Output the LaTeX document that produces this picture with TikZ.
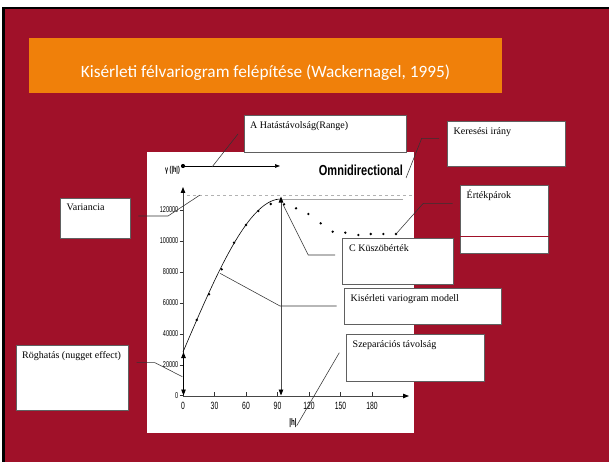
\documentclass[tikz,border=0pt]{standalone}
\usepackage{fontspec}
\setmainfont{Liberation Serif}
\newfontfamily\titlefont{Carlito}
\newfontfamily\chartfont[FakeStretch=0.65]{Liberation Sans}
\newfontfamily\omnifont[FakeStretch=0.76]{Liberation Sans}
\usetikzlibrary{arrows.meta}
\definecolor{slidered}{RGB}{160,17,41}
\definecolor{titleorange}{RGB}{240,128,10}
\begin{document}
\begin{tikzpicture}[x=1pt,y=-1pt,
  box/.style={draw=gray!75!black, line width=0.7pt, fill=white, anchor=north west, inner sep=0pt},
  boxtext/.style={anchor=base west, inner sep=0pt, font=\fontsize{10}{12}\selectfont},
  leader/.style={draw=black!80, line width=0.55pt},
  ylab/.style={font=\chartfont\fontsize{8.5}{9}\selectfont, inner sep=0pt, anchor=east},
  xlab/.style={font=\chartfont\fontsize{10.5}{11}\selectfont, inner sep=0pt, anchor=north},
  dot/.style={circle, fill=black, inner sep=0pt, minimum size=2.6pt},
  axis/.style={draw=gray!55!black, line width=0.9pt},
  tip/.style={-{Triangle[length=6pt,width=4.5pt,color=black]}},
  dtip/.style={{Triangle[length=6pt,width=4.5pt,color=black]}-{Triangle[length=6pt,width=4.5pt,color=black]}},
]
\useasboundingbox (0,0) rectangle (609,462);
% slide background
\fill[white] (0,0) rectangle (609,462);
\fill[black] (2,7) rectangle (609,462);
\fill[slidered] (5,9) rectangle (609,462);
% title bar
\node[fill=titleorange, anchor=north west, minimum width=473pt, minimum height=55pt, inner sep=0pt] (titlebar) at (29,38) {};
\node[anchor=base, inner sep=0pt, text=white, font=\titlefont\fontsize{17.3}{20}\selectfont] (title) at (265.5,77.7) {Kisérleti félvariogram felépítése (Wackernagel, 1995)};
% chart area
\fill[white] (147,152) rectangle (414,433);
% sill lines
\draw[gray!60, dashed, line width=0.5pt] (187,195) -- (414,195);
\draw[gray!70, line width=1pt] (282,199) -- (403,199);
% axes
\coordinate (O) at (183,396);
\coordinate (ytip) at (183,187);
\coordinate (xtip) at (409,396);
\draw[axis, tip] (O) -- (ytip);
\draw[axis, tip] (O) -- (xtip);
% y ticks
\foreach \k/\lab in {0/0,1/20000,2/40000,3/60000,4/80000,5/100000,6/120000}{
  \draw[gray!40!black, line width=0.5pt] (179.5,{395.7-30.95*\k}) -- (183,{395.7-30.95*\k});
  \node[ylab] (yl\k) at (178.5,{395.7-30.95*\k}) {\lab};
}
% x ticks
\foreach \k/\lab in {0/0,1/30,2/60,3/90,4/120,5/150,6/180}{
  \draw[gray!40!black, line width=0.5pt] ({183+31.5*\k},396) -- ({183+31.5*\k},392);
  \node[xlab] (xl\k) at ({183+31.5*\k},402) {\lab};
}
% axis labels
\node[inner sep=0pt, font=\chartfont\bfseries\fontsize{8.5}{9}\selectfont] (ylabel) at (172.5,170) {γ (|h|)};
\node[inner sep=0pt, font=\chartfont\bfseries\fontsize{9.5}{10}\selectfont] (xlabel) at (293,423) {|h|};
\node[anchor=base east, inner sep=0pt, font=\omnifont\bfseries\fontsize{14.5}{15}\selectfont] (omni) at (403,176) {Omnidirectional};
% range and nugget arrows
\draw[gray!60!black, line width=0.9pt, dtip] (281,196.5) -- (281,395.5);
\draw[black, line width=0.9pt, dtip] (183.5,352) -- (183.5,395.5);
% model curve
\draw[black, line width=0.6pt] plot[domain=183:281, samples=40] (\x,{352-153*(1.5*((\x-183)/98)-0.5*((\x-183)/98)^3)});
% experimental points
\foreach \p [count=\i] in {(196.7,320),(209,294.3),(221.7,269.3),(234,242.7),(246,225),(258.3,211),(270.7,204),(284,204.3),(296,208.3),(308.3,214),(320.7,223.3),(332.7,231.7),(345.3,232.7),(358.3,235),(370.7,234),(383.3,234),(396,234)}
  \node[dot] (d\i) at \p {};
% range indicator
\node[dot, minimum size=4.2pt] (rstart) at (183,166) {};
\coordinate (rend) at (280,166);
\draw[black, line width=0.7pt, -{Triangle[length=5pt,width=3.6pt]}] (rstart.center) -- (rend);
% boxes
\node[box, minimum width=162pt, minimum height=37pt] (rangebox) at (244,115) {};
\node[boxtext] (rangetext) at ([shift={(6,14)}]rangebox.north west) {A Hatástávolság(Range)};
\node[box, minimum width=118pt, minimum height=45pt] (kerbox) at (447,121) {};
\node[boxtext] (kertext) at ([shift={(6.5,13.5)}]kerbox.north west) {Keresési irány};
\node[box, minimum width=88pt, minimum height=68pt] (ertbox) at (460,185) {};
\draw[slidered, line width=0.9pt] (ertbox.west |- 0,236) -- (ertbox.east |- 0,236);
\node[boxtext] (erttext) at ([shift={(6.5,13.5)}]ertbox.north west) {Értékpárok};
\node[box, minimum width=70pt, minimum height=40pt] (varbox) at (60,198) {};
\node[boxtext] (vartext) at ([shift={(6.5,12.5)}]varbox.north west) {Variancia};
\node[box, minimum width=112pt, minimum height=65pt] (rogbox) at (16,345) {};
\node[boxtext] (rogtext) at ([shift={(6,13.5)}]rogbox.north west) {Röghatás (nugget effect)};
\node[box, minimum width=111pt, minimum height=46pt] (kuszbox) at (342,238) {};
\node[boxtext] (kusztext) at ([shift={(7,13)}]kuszbox.north west) {C Küszöbérték};
\node[box, minimum width=157pt, minimum height=36pt] (kisbox) at (344,288) {};
\node[boxtext] (kistext) at ([shift={(6.5,13.5)}]kisbox.north west) {Kisérleti variogram modell};
\node[box, minimum width=138pt, minimum height=47pt] (szepbox) at (346,334) {};
\node[boxtext] (szeptext) at ([shift={(6.5,13.5)}]szepbox.north west) {Szeparációs távolság};
% leader coordinates
\coordinate (rl1) at (212,167);  \coordinate (rl2) at (238,134);
\coordinate (kl1) at (406,178);  \coordinate (kl2) at (421.7,138.3); \coordinate (kl3) at (439,138.3);
\coordinate (el2) at (423.3,203.3); \coordinate (el3) at (452.7,203.3);
\coordinate (vl1) at (138.3,216); \coordinate (vl2) at (168,216); \coordinate (vl3) at (200,195);
\coordinate (cl1) at (283.3,205); \coordinate (cl2) at (308.3,255); \coordinate (cl3) at (335,255);
\coordinate (ml1) at (220,273.3); \coordinate (ml2) at (280,306); \coordinate (ml3) at (336.7,306);
\coordinate (sl1) at (339.3,352.7); \coordinate (sl2) at (296.7,425.7);
\coordinate (gl1) at (136.7,362.7); \coordinate (gl2) at (155,362.7); \coordinate (gl3) at (182.3,376.7);
% leaders
\draw[leader] (rl1) -- (rl2);
\draw[leader] (kl1) -- (kl2) -- (kl3);
\draw[leader] (d17) -- (el2) -- (el3);
\draw[leader] (vl1) -- (vl2) -- (vl3);
\draw[leader] (cl1) -- (cl2) -- (cl3);
\draw[leader] (ml1) -- (ml2) -- (ml3);
\draw[leader] (sl1) -- (sl2);
\draw[leader] (gl1) -- (gl2) -- (gl3);
\end{tikzpicture}
\end{document}
